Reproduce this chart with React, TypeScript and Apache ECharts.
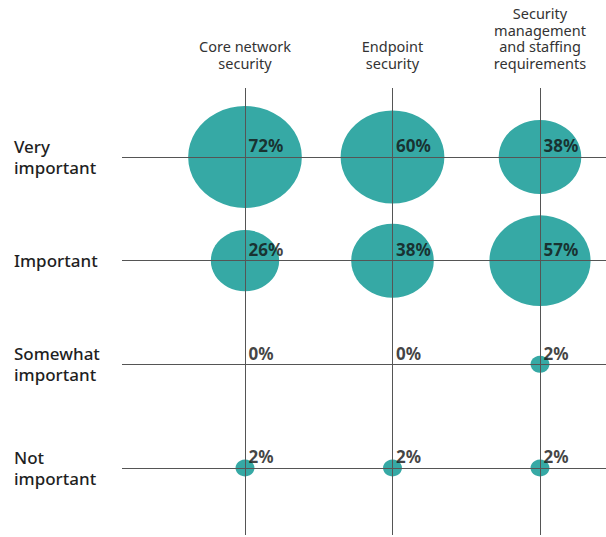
import React, { useEffect, useRef } from "react";
import * as echarts from "echarts";

const columns = ["Core network\nsecurity", "Endpoint\nsecurity", "Security\nmanagement\nand staffing\nrequirements"];
const rows = ["Very\nimportant", "Important", "Somewhat\nimportant", "Not\nimportant"];
const coreNetwork = [72, 26, 0, 2];
const endpoint = [60, 38, 0, 2];
const securityManagement = [38, 57, 2, 2];

const FONT = "'Noto Sans', sans-serif";
const TEAL = "#36a9a5";

export default function App() {
  const ref = useRef<HTMLDivElement>(null);
  useEffect(() => {
    if (!ref.current) return;
    const chart = echarts.init(ref.current, undefined, { renderer: "svg" });
    const cols = [coreNetwork, endpoint, securityManagement];
    const points: number[][] = [];
    cols.forEach((col, ci) => col.forEach((v, ri) => points.push([ci, ri, v])));

    const xMin = -0.8339;
    const xMax = 2.4475;
    const yMin = -0.6656;
    const yMax = 3.6464;

    chart.setOption({
      animation: false,
      backgroundColor: "#ffffff",
      grid: { left: 122, right: 0, top: 88, bottom: 2 },
      xAxis: {
        type: "value",
        position: "top",
        min: xMin,
        max: xMax,
        axisLine: { show: false },
        axisTick: { show: false },
        splitLine: { show: false },
        axisLabel: {
          customValues: [0, 1, 2],
          formatter: (v: number) => columns[Math.round(v)] ?? "",
          fontFamily: FONT,
          fontSize: 14.5,
          lineHeight: 16.5,
          color: "#333333",
          margin: 17,
          align: "center",
        },
      },
      yAxis: {
        type: "value",
        inverse: true,
        min: yMin,
        max: yMax,
        axisLine: { show: false },
        axisTick: { show: false },
        splitLine: { show: false },
        axisLabel: {
          customValues: [0, 1, 2, 3],
          formatter: (v: number) => rows[Math.round(v)] ?? "",
          fontFamily: FONT,
          fontSize: 17,
          fontWeight: 500,
          lineHeight: 21,
          color: "#1f1f1f",
          margin: 108,
          align: "left",
          verticalAlign: "middle",
        },
      },
      series: [
        {
          type: "scatter",
          name: "bubbles",
          z: 2,
          data: points,
          symbol: "circle",
          symbolSize: (d: number[]) => [13.4 * Math.sqrt(d[2]), 12 * Math.sqrt(d[2])],
          itemStyle: { color: TEAL, opacity: 1 },
          silent: true,
        },
        {
          type: "scatter",
          name: "grid",
          z: 5,
          data: [],
          markLine: {
            silent: true,
            symbol: "none",
            label: { show: false },
            lineStyle: { color: "#555555", width: 1, type: "solid" },
            data: [
              ...columns.map((_, i) => ({ xAxis: i })),
              ...rows.map((_, i) => ({ yAxis: i })),
            ],
          },
        },
        {
          type: "scatter",
          name: "labels",
          z: 10,
          data: points,
          symbolSize: 1,
          itemStyle: { color: "rgba(0,0,0,0)" },
          silent: true,
          label: {
            show: true,
            position: [4, -2],
            align: "left",
            verticalAlign: "bottom",
            formatter: (p: any) => `${p.value[2]}%`,
            fontFamily: FONT,
            fontWeight: "bold",
            fontSize: 17,
            lineHeight: 17,
            color: "#111111",
          },
        },
      ],
    });
    return () => chart.dispose();
  }, []);
  return <div ref={ref} style={{ position: "absolute", left: 0, top: 0, width: 606, height: 537 }} />;
}
